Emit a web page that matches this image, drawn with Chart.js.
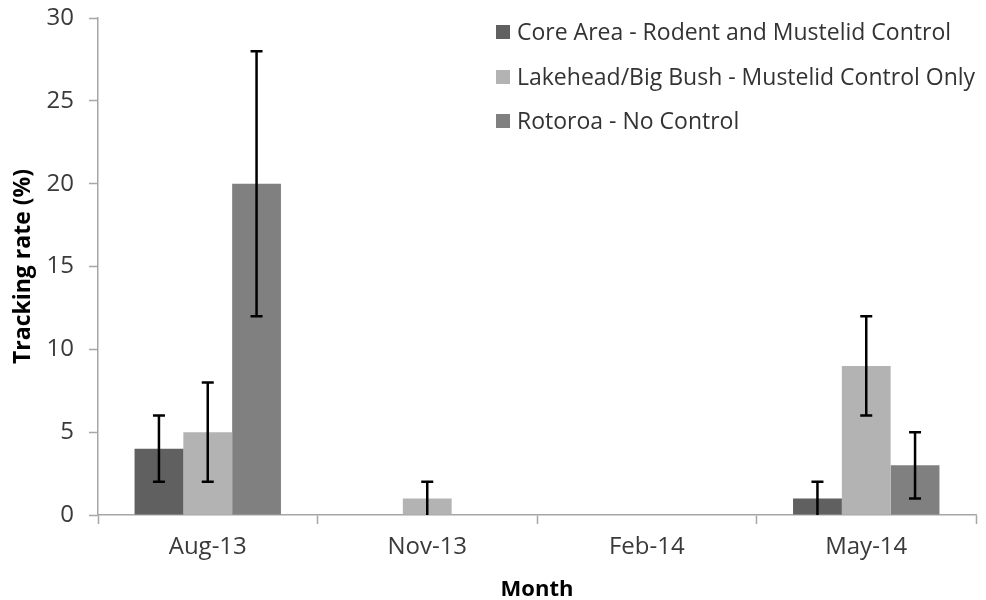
<!DOCTYPE html>
<html>
<head>
<meta charset="utf-8">
<script src="https://cdn.jsdelivr.net/npm/chart.js@4/dist/chart.umd.min.js"></script>
<style>
  html, body { margin: 0; padding: 0; background: #fff; }
  #wrap { position: relative; width: 986px; height: 600px; }
  #legend { position: absolute; left: 496px; top: 16px; font-family: "Open Sans", sans-serif; font-size: 23px; color: #333; }
  #legend div { height: 44.5px; line-height: 30px; white-space: nowrap; }
  #legend span.box { display: inline-block; width: 14px; height: 14px; margin-right: 7px; vertical-align: 1px; }
</style>
</head>
<body>
<div id="wrap">
  <canvas id="chart" width="986" height="600"></canvas>
  <div id="legend"></div>
</div>
<script>
"use strict";

var months = ['Aug-13', 'Nov-13', 'Feb-14', 'May-14'];
var seriesNames = [
  'Core Area - Rodent and Mustelid Control',
  'Lakehead/Big Bush - Mustelid Control Only',
  'Rotoroa - No Control'
];
var coreValues = [4, 0, 0, 1];
var lakeheadValues = [5, 1, 0, 9];
var rotoroaValues = [20, 0, 0, 3];
// error bar half-widths (null = no bar)
var coreErrors = [2, null, null, 1];
var lakeheadErrors = [3, 1, null, 3];
var rotoroaErrors = [8, null, null, 2];
var yTicks = [0, 5, 10, 15, 20, 25, 30];

var colors = ['#606060', '#b3b3b3', '#808080'];
var axisGrey = '#a6a6a6';
var textColor = '#3a3a3a';
var fontFamily = '"Open Sans", sans-serif';

var errorBars = {
  id: 'errorBars',
  afterDatasetsDraw: function (chart) {
    var ctx = chart.ctx;
    var yScale = chart.scales.y;
    ctx.save();
    ctx.strokeStyle = '#000';
    ctx.lineWidth = 2.5;
    chart.data.datasets.forEach(function (ds, di) {
      var meta = chart.getDatasetMeta(di);
      ds.errors.forEach(function (err, i) {
        if (err === null) return;
        var x = meta.data[i].x;
        var v = ds.data[i];
        var top = yScale.getPixelForValue(v + err);
        var bot = yScale.getPixelForValue(Math.max(0, v - err));
        ctx.beginPath();
        ctx.moveTo(x, top);
        ctx.lineTo(x, bot);
        ctx.moveTo(x - 6, top);
        ctx.lineTo(x + 6, top);
        if (v - err > 0) {
          ctx.moveTo(x - 6, bot);
          ctx.lineTo(x + 6, bot);
        }
        ctx.stroke();
      });
    });
    ctx.restore();
  }
};

var ctx = document.getElementById('chart').getContext('2d');
var chart = new Chart(ctx, {
  type: 'bar',
  data: {
    labels: months,
    datasets: [
      { label: seriesNames[0], data: coreValues, errors: coreErrors, backgroundColor: colors[0] },
      { label: seriesNames[1], data: lakeheadValues, errors: lakeheadErrors, backgroundColor: colors[1] },
      { label: seriesNames[2], data: rotoroaValues, errors: rotoroaErrors, backgroundColor: colors[2] }
    ]
  },
  options: {
    responsive: false,
    animation: false,
    layout: { padding: { top: 18, right: 10, left: 0, bottom: 0 } },
    datasets: { bar: { categoryPercentage: 0.667, barPercentage: 1.0 } },
    plugins: {
      legend: { display: false },
      tooltip: { enabled: false }
    },
    scales: {
      x: {
        grid: { offset: true, drawOnChartArea: false, tickLength: 9, color: axisGrey, tickWidth: 1.5 },
        border: { color: axisGrey, width: 1.5 },
        ticks: { color: textColor, font: { family: fontFamily, size: 24 }, padding: 9 },
        title: { display: true, text: 'Month', color: '#000', font: { family: fontFamily, size: 22, weight: 'bold' }, padding: { top: 4, bottom: -3 } },
        afterFit: function (s) { s.height = 85; s.paddingLeft = 0; s.paddingRight = 0; }
      },
      y: {
        min: 0,
        max: 30,
        afterBuildTicks: function (s) { s.ticks = yTicks.map(function (v) { return { value: v }; }); },
        grid: { drawOnChartArea: false, tickLength: 9, color: axisGrey, tickWidth: 1.5 },
        border: { color: axisGrey, width: 1.5 },
        ticks: { color: textColor, font: { family: fontFamily, size: 24 }, padding: 15 },
        title: { display: true, text: 'Tracking rate (%)', color: '#000', font: { family: fontFamily, size: 23, weight: 'bold' }, padding: { top: 10, bottom: 0 } },
        afterFit: function (s) { s.width = 98; s.paddingTop = 0; s.paddingBottom = 0; }
      }
    }
  },
  plugins: [errorBars]
});

var legend = document.getElementById('legend');
chart.data.datasets.forEach(function (ds) {
  var row = document.createElement('div');
  var box = document.createElement('span');
  box.className = 'box';
  box.style.background = ds.backgroundColor;
  row.appendChild(box);
  row.appendChild(document.createTextNode(ds.label));
  legend.appendChild(row);
});
</script>
</body>
</html>
